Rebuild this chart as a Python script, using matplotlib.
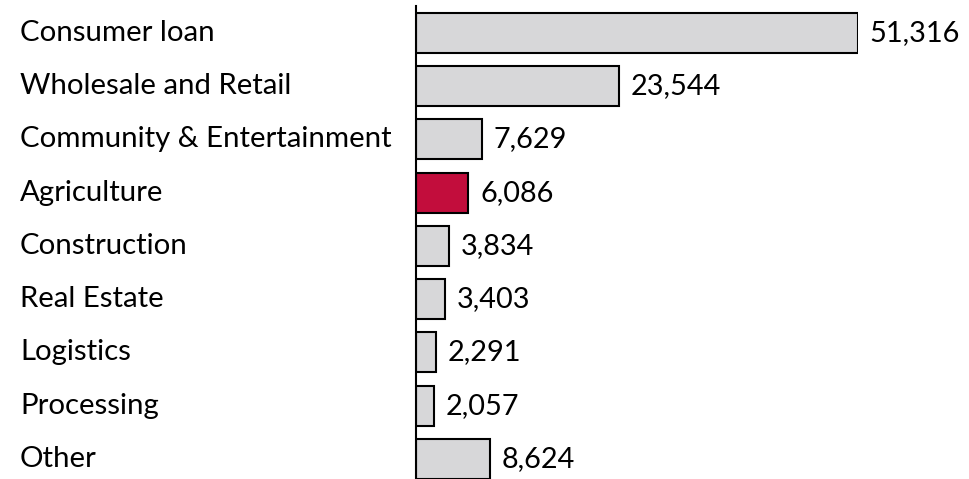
import matplotlib
matplotlib.use("Agg")
import matplotlib.pyplot as plt
from matplotlib.transforms import blended_transform_factory

# loan book by sector
sectors = ["Consumer loan", "Wholesale and Retail", "Community & Entertainment",
           "Agriculture", "Construction", "Real Estate", "Logistics",
           "Processing", "Other"]
amounts = [51316, 23544, 7629, 6086, 3834, 3403, 2291, 2057, 8624]
highlight = "Agriculture"

GREY = "#d7d7d9"
RED = "#c20d3c"
FS = 20.8

plt.rcParams["font.family"] = ["Lato", "DejaVu Sans"]

fig = plt.figure(figsize=(9.7, 4.79), dpi=100)
ax = fig.add_axes([416 / 970, -6.7 / 479, 442 / 970, 479.7 / 479])

ypos = list(range(len(sectors)))
colors = [RED if s == highlight else GREY for s in sectors]
ax.barh(ypos, amounts, height=0.75, color=colors, edgecolor="black", linewidth=1.5)

ax.set_xlim(0, max(amounts))
ax.set_ylim(len(sectors) - 0.5, -0.5)

# sector names sit at the left edge of the figure
name_tr = blended_transform_factory(fig.transFigure, ax.transData)
for y, (name, val) in enumerate(zip(sectors, amounts)):
    ax.annotate(f"{val:,}", xy=(val, y), xytext=(8.5, 0), textcoords="offset points",
                va="center", ha="left", fontsize=FS, annotation_clip=False)
    ax.text(20 / 970, y, name, transform=name_tr, va="center", ha="left", fontsize=21.2)

for side in ("top", "right", "bottom"):
    ax.spines[side].set_visible(False)
ax.spines["left"].set_linewidth(1.5)
ax.set_xticks([])
ax.set_yticks([])
ax.patch.set_visible(False)

fig.savefig("out.png", dpi=100)
